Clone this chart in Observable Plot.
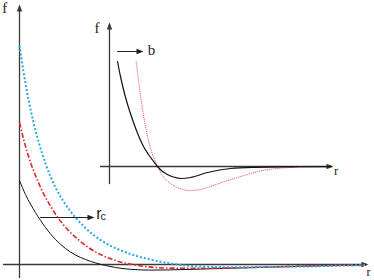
<!DOCTYPE html>
<html>
<head>
<meta charset="utf-8">
<script src="https://cdn.jsdelivr.net/npm/d3@7"></script>
<script src="https://cdn.jsdelivr.net/npm/@observablehq/plot@0.6"></script>
<style>
  html, body { margin: 0; padding: 0; background: white; }
  #wrap { position: relative; width: 374px; height: 280px; }
  #wrap svg { position: absolute; left: 0; top: 0; }
</style>
</head>
<body>
<div id="wrap"></div>
<script>
// ---- Main panel data: [r, f] ----
const blueDotted = [[0,10.95],[0.114,9.65],[0.257,8.25],[0.4,7.1],[0.543,6.15],[0.743,5.05],[1.029,3.85],[1.314,3.0],[1.6,2.35],[1.886,1.825],[2.171,1.4],[2.457,1.075],[2.8,0.775],[3.257,0.475],[3.743,0.25],[4.029,0.14],[4.4,0.025],[4.743,-0.05],[5.171,-0.1],[6.114,-0.135],[7.171,-0.125],[8.029,-0.1],[9.171,-0.06],[9.886,-0.03]];
const redDashDot = [[0,7.1],[0.143,6.1],[0.286,5.25],[0.457,4.45],[0.657,3.65],[0.886,2.925],[1.114,2.3],[1.371,1.75],[1.657,1.275],[1.971,0.85],[2.314,0.5],[2.657,0.25],[2.943,0.1],[3.229,0],[3.6,-0.1],[4.029,-0.165],[4.6,-0.185],[5.171,-0.185],[6.114,-0.165],[7.171,-0.125],[8.029,-0.075],[9.171,-0.04],[9.886,-0.02]];
const blackSolid = [[0,4.2],[0.171,3.5],[0.457,2.6],[0.743,1.85],[1.029,1.25],[1.314,0.8],[1.6,0.475],[1.886,0.25],[2.171,0.08],[2.457,-0.05],[2.743,-0.15],[3.171,-0.24],[3.743,-0.28],[4.314,-0.27],[5.171,-0.23],[6.314,-0.17],[7.457,-0.115],[8.6,-0.065],[9.886,-0.025]];

// ---- Inset data: [r, f] ----
const insetBlack = [[0.4,5.25],[0.55,4.5],[0.75,3.65],[0.95,2.95],[1.2,2.2],[1.45,1.55],[1.7,1.0],[1.95,0.6],[2.15,0.325],[2.4,0],[2.65,-0.25],[2.85,-0.375],[3.2,-0.525],[3.6,-0.6],[4.05,-0.55],[4.9,-0.3],[6.05,-0.1],[7.3,-0.04],[9.05,-0.015],[11.05,-0.005]];
const insetRed = [[1.335,5.25],[1.45,4.3],[1.6,3.2],[1.8,2.0],[2.05,0.9],[2.2,0.475],[2.4,0],[2.7,-0.525],[3.05,-0.85],[3.55,-1.115],[4.05,-1.2],[4.55,-1.15],[4.9,-1.05],[5.9,-0.7],[6.9,-0.4],[7.55,-0.225],[9.05,-0.05],[10.55,-0.01],[11.05,0]];

// ---- Labels ----
const axisLabelF = "f";
const axisLabelR = "r";
const cutoffLabel = "r";
const cutoffSub = "c";
const shiftLabel = "b";

const axisColor = "#3a3a3a";
const textColor = "#222";
const serif = "Liberation Serif, Times New Roman, serif";
const sans = "Liberation Sans, Arial, sans-serif";

// arrowhead symbols (tip at the anchor point)
const headRight = {draw(ctx) { ctx.moveTo(0, 0); ctx.lineTo(-7, 2.7); ctx.lineTo(-7, -2.7); ctx.closePath(); }};
const headUp = {draw(ctx) { ctx.moveTo(0, 0); ctx.lineTo(-2.7, 7); ctx.lineTo(2.7, 7); ctx.closePath(); }};

const main = Plot.plot({
  width: 374, height: 280,
  margin: 0,
  x: {domain: [-19/35, 355/35], axis: null},
  y: {domain: [-0.8, 13.2], axis: null},
  marks: [
    // axes
    Plot.line([[0, -0.65], [0, 12.9]], {stroke: axisColor, strokeWidth: 1.3}),
    Plot.line([[-0.457, 0], [9.9, 0]], {stroke: axisColor, strokeWidth: 1.3}),
    Plot.dot([[0, 13.0]], {symbol: headUp, fill: axisColor, stroke: "none"}),
    Plot.dot([[9.97, 0]], {symbol: headRight, fill: axisColor, stroke: "none"}),
    // curves
    Plot.line(blackSolid, {stroke: "#111", strokeWidth: 1, curve: "monotone-x"}),
    Plot.line(redDashDot, {stroke: "#e4222a", strokeWidth: 1.6, strokeDasharray: "5,2,1.5,2", strokeLinecap: "butt", curve: "monotone-x"}),
    Plot.line(blueDotted, {stroke: "#27a9e1", strokeWidth: 2, strokeDasharray: "2,2", strokeLinecap: "butt", curve: "monotone-x"}),
    // r_c arrow
    Plot.line([[0.6, 2.35], [2.05, 2.35]], {stroke: textColor, strokeWidth: 1}),
    Plot.dot([[2.143, 2.35]], {symbol: headRight, fill: textColor, stroke: "none"}),
    Plot.text([cutoffLabel], {x: 2.27, y: 2.55, fontSize: 16, fontFamily: sans, fill: textColor, textAnchor: "middle", lineAnchor: "middle"}),
    Plot.text([cutoffSub], {x: 2.39, y: 2.42, fontSize: 11, fontFamily: sans, fill: textColor, textAnchor: "middle", lineAnchor: "middle"}),
    // axis labels
    Plot.text([axisLabelF], {x: -0.42, y: 12.8, fontSize: 15, fontFamily: serif, fill: textColor, textAnchor: "middle", lineAnchor: "middle"}),
    Plot.text([axisLabelR], {x: 9.97, y: -0.4, fontSize: 12, fontFamily: serif, fill: textColor, textAnchor: "middle", lineAnchor: "middle"})
  ]
});

const inset = Plot.plot({
  width: 374, height: 280,
  margin: 0,
  style: {background: "transparent"},
  x: {domain: [-109/20, 265/20], axis: null},
  y: {domain: [-5.7, 8.3], axis: null},
  marks: [
    Plot.line([[0, -0.85], [0, 7.1]], {stroke: axisColor, strokeWidth: 1.3}),
    Plot.line([[-0.45, 0], [11.1, 0]], {stroke: axisColor, strokeWidth: 1.3}),
    Plot.dot([[0, 7.2]], {symbol: headUp, fill: axisColor, stroke: "none"}),
    Plot.dot([[11.2, 0]], {symbol: headRight, fill: axisColor, stroke: "none"}),
    Plot.line(insetRed, {stroke: "#f2454b", strokeWidth: 1, strokeDasharray: "1,1", strokeLinecap: "butt", curve: "monotone-x"}),
    Plot.line(insetBlack, {stroke: "#111", strokeWidth: 1.2, curve: "monotone-x"}),
    // b arrow
    Plot.line([[0.4, 5.75], [1.6, 5.75]], {stroke: textColor, strokeWidth: 1}),
    Plot.dot([[1.7, 5.75]], {symbol: headRight, fill: textColor, stroke: "none"}),
    Plot.text([shiftLabel], {x: 2.1, y: 5.83, fontSize: 15, fontFamily: serif, fill: textColor, textAnchor: "middle", lineAnchor: "middle"}),
    Plot.text([axisLabelF], {x: -0.62, y: 6.93, fontSize: 15, fontFamily: serif, fill: textColor, textAnchor: "middle", lineAnchor: "middle"}),
    Plot.text([axisLabelR], {x: 11.33, y: -0.2, fontSize: 13, fontFamily: serif, fill: textColor, textAnchor: "middle", lineAnchor: "middle"})
  ]
});

const wrap = document.getElementById("wrap");
wrap.appendChild(main);
wrap.appendChild(inset);
</script>
</body>
</html>
